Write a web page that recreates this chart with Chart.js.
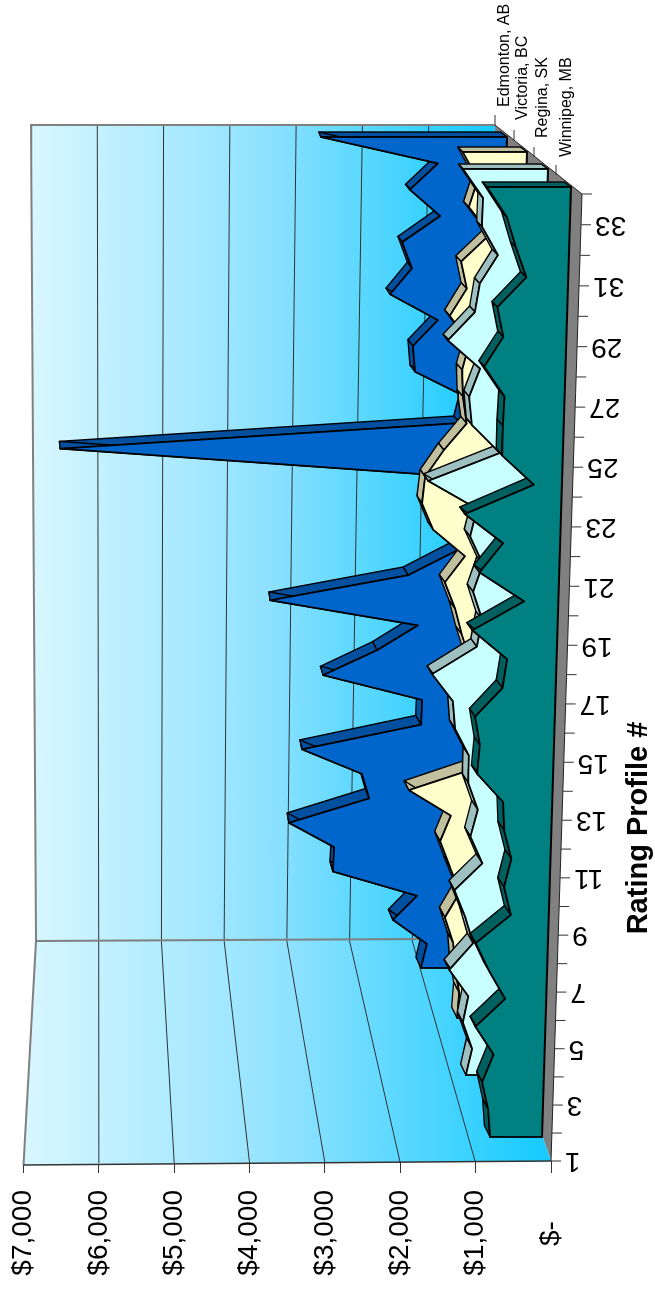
<!DOCTYPE html>
<html>
<head>
<meta charset="utf-8">
<style>
html, body { margin: 0; padding: 0; background: #fff; width: 655px; height: 1289px; overflow: hidden; }
#wrap { position: absolute; left: 0; top: 0; width: 655px; height: 1289px; overflow: hidden; }
#chart { position: absolute; left: 0; top: 0; transform-origin: 0 0; transform: translateY(1289px) rotate(-90deg); }
</style>
<script src="https://cdn.jsdelivr.net/npm/chart.js@4/dist/chart.umd.min.js"></script>
</head>
<body>
<div id="wrap"><canvas id="chart" width="1289" height="655" style="width:1289px;height:655px"></canvas></div>
<script>
// Data
const categories = ['1','2','3','4','5','6','7','8','9','10','11','12','13','14','15','16','17',
    '18','19','20','21','22','23','24','25','26','27','28','29','30','31','32','33','34'];
const tickLabels = ['1','3','5','7','9','11','13','15','17','19','21','23','25','27','29','31','33'];
const valueTicks = [0, 1000, 2000, 3000, 4000, 5000, 6000, 7000];

const winnipeg = [684,720,810,670,920,540,760,950,500,600,515,620,645,1000,975,1050,700,
    650,1120,450,1050,750,1265,370,800,800,790,1070,830,920,550,700,830,1105];
const regina = [764,690,830,765,1040,720,840,1000,625,800,710,855,855,1060,1100,1400,790,
    730,865,740,930,845,1535,550,950,1000,860,1320,955,900,660,895,890,1180];
const victoria = [650,630,700,740,870,660,820,970,825,1445,320,580,590,600,610,740,850,
    1010,730,1200,1375,1340,1080,760,825,850,750,1050,815,910,500,820,700,930];
const edmonton = [955,875,1400,1045,2330,2320,3015,1810,1930,2850,1055,1050,2560,1755,1145,3395,1315,
    570,550,710,1160,6640,590,500,1295,1340,970,1705,1385,1545,980,1450,1035,2820];

// The page is the chart turned a quarter turn, so (sx, sy) on screen is (1289 - sy, sx) on the canvas
const P = (sx, sy) => [1289 - sy, sx];
const FONT = '"Liberation Sans", Arial, sans-serif';

// Where each series sits on the floor: start and end of its base line, on screen
const planes = {
    Winnipeg: { start: P(542, 1137), end: P(571, 187), scale: 76 },
    Regina:   { start: P(521, 1075), end: P(548, 169), scale: 72 },
    Victoria: { start: P(502, 1018), end: P(527, 152), scale: 69 },
    Edmonton: { start: P(484, 968),  end: P(507, 137), scale: 66 }
};

// Category axis that gets a little wider towards the far end
class WarpedCategoryScale extends Chart.CategoryScale {
    getPixelForDecimal(d) {
        return super.getPixelForDecimal(d / (d + 1.05 * (1 - d)));
    }
}
WarpedCategoryScale.id = 'warpedCategory';
WarpedCategoryScale.defaults = Chart.CategoryScale.defaults;

// Area with a thickness, standing on its own plane in the depth of the chart
class Area3DController extends Chart.LineController {
    draw() {
        const ds = this.getDataset();
        const pts = this.getMeta().data;
        const xs = this.chart.scales.x, ys = this.chart.scales.y;
        const plane = planes[ds.plane];
        const ctx = this.chart.ctx;
        const y0 = ys.getPixelForValue(0);
        const k = plane.scale / ((y0 - ys.getPixelForValue(1000)));

        const project = (x, y) => {
            const t = (x - xs.left) / (xs.right - xs.left);
            return [plane.start[0] + t * (plane.end[0] - plane.start[0]),
                plane.start[1] + t * (plane.end[1] - plane.start[1]) + (y - y0) * k];
        };
        const back = (x, y, p) => {
            const t = (x - xs.left) / (xs.right - xs.left);
            const v = (y0 - y) / (y0 - ys.getPixelForValue(1000)) * 1000;
            const d = 11 - 6 * t;
            const slope = (0.6 + 0.7 * t) * Math.max(0.1, 1 - v / 4000);
            return [p[0] + d, p[1] - d * slope];
        };
        const quad = (a, b, c, e) => {
            ctx.beginPath();
            ctx.moveTo(a[0], a[1]);
            ctx.lineTo(b[0], b[1]);
            ctx.lineTo(c[0], c[1]);
            ctx.lineTo(e[0], e[1]);
            ctx.closePath();
            ctx.fill();
            ctx.stroke();
        };

        const front = pts.map(p => project(p.x, p.y));
        const rear = pts.map((p, i) => back(p.x, p.y, front[i]));
        const last = pts.length - 1;

        ctx.save();
        ctx.lineJoin = 'round';
        ctx.strokeStyle = '#000';
        ctx.lineWidth = 1.4;
        ctx.fillStyle = ds.sideColor;

        // far end of the ribbon
        const baseEnd = project(pts[last].x, y0);
        quad(front[last], rear[last], back(pts[last].x, y0, baseEnd), baseEnd);
        // top of the ribbon
        for (let i = last - 1; i >= 0; i--) {
            quad(front[i], rear[i], rear[i + 1], front[i + 1]);
        }
        // front face
        const baseStart = project(pts[0].x, y0);
        ctx.fillStyle = ds.backgroundColor;
        ctx.lineWidth = 1.8;
        ctx.beginPath();
        ctx.moveTo(baseStart[0], baseStart[1]);
        front.forEach(p => ctx.lineTo(p[0], p[1]));
        ctx.lineTo(baseEnd[0], baseEnd[1]);
        ctx.closePath();
        ctx.fill();
        ctx.stroke();
        ctx.restore();
    }
}
Area3DController.id = 'area3d';
Area3DController.defaults = Chart.LineController.defaults;

Chart.register(WarpedCategoryScale, Area3DController);

// Walls and floor behind the series
const wallsPlugin = {
    id: 'walls',
    beforeDatasetsDraw(chart) {
        const ctx = chart.ctx, ys = chart.scales.y;
        const poly = (pts, close) => {
            ctx.beginPath();
            pts.forEach((p, i) => i ? ctx.lineTo(p[0], p[1]) : ctx.moveTo(p[0], p[1]));
            if (close) ctx.closePath();
        };
        const g = ctx.createLinearGradient(0, 23, 0, 551);
        g.addColorStop(0, '#d8f7ff');
        g.addColorStop(0.5, '#90e2ff');
        g.addColorStop(1, '#14caff');

        ctx.save();
        // floor
        ctx.fillStyle = '#808080';
        poly([P(551, 1161), P(475, 941), P(495, 125), P(582, 194)], true);
        ctx.fill();

        // side wall
        ctx.fillStyle = g;
        poly([P(23.5, 1165), P(36, 941), P(475, 941), P(551, 1161)], true);
        ctx.fill();
        // back wall
        const g2 = ctx.createLinearGradient(0, 31, 0, 495);
        g2.addColorStop(0, '#d8f7ff');
        g2.addColorStop(0.5, '#90e2ff');
        g2.addColorStop(1, '#14caff');
        ctx.fillStyle = g2;
        poly([P(36, 941), P(31, 125), P(495, 125), P(475, 941)], true);
        ctx.fill();

        // grid lines follow the value axis
        ctx.lineWidth = 1;
        ctx.strokeStyle = '#333';
        valueTicks.slice(1, -1).forEach(v => {
            const r = v / 7000;
            const front = ys.getPixelForValue(v);
            poly([P(front, 1163), P(475 + (36 - 475) * r, 941), P(495 + (31 - 495) * r, 125)]);
            ctx.stroke();
        });

        // wall frame
        ctx.strokeStyle = '#808080';
        ctx.lineWidth = 2;
        poly([P(23.5, 1165), P(36, 941), P(31, 125), P(495, 125)]);
        ctx.stroke();
        poly([P(36, 941), P(420, 939)]);
        ctx.stroke();

        // front edge of the side wall
        ctx.strokeStyle = '#333';
        ctx.lineWidth = 1.5;
        poly([P(23.5, 1165), P(551, 1161)]);
        ctx.stroke();
        ctx.strokeStyle = '#222';
        ctx.lineWidth = 1;
        poly([P(495, 125), P(582, 194), P(551, 1161)]);
        ctx.stroke();
        ctx.restore();
    },
    afterDatasetsDraw(chart) {
        const ctx = chart.ctx, xs = chart.scales.x;
        const edge = i => {
            const px = xs.getPixelForValue(i);
            return [px, 551 + 31 * (px - xs.left) / (xs.right - xs.left)];
        };
        ctx.save();
        ctx.strokeStyle = '#333';
        ctx.lineWidth = 1;
        categories.forEach((c, i) => {
            const e = edge(i);
            ctx.beginPath();
            ctx.moveTo(e[0], e[1]);
            ctx.lineTo(e[0], e[1] + 10);
            ctx.stroke();
        });

        // category labels, turned a further quarter
        ctx.fillStyle = '#000';
        ctx.font = '28px ' + FONT;
        ctx.textAlign = 'right';
        ctx.textBaseline = 'middle';
        tickLabels.forEach(l => {
            const e = edge(categories.indexOf(l));
            ctx.save();
            ctx.translate(e[0], e[1] + 14);
            ctx.rotate(-Math.PI / 2);
            ctx.fillText(l, 0, 0);
            ctx.restore();
        });

        // series names on the depth axis
        ctx.font = '16px ' + FONT;
        ctx.textAlign = 'left';
        [['Edmonton, AB', 495, 125, 505, 107], ['Victoria, BC', 514, 140, 523, 120],
            ['Regina, SK', 534, 157, 543, 138], ['Winnipeg, MB', 556, 175, 567, 157]].forEach(s => {
            const a = P(s[1], s[2]);
            ctx.beginPath();
            ctx.moveTo(a[0], a[1]);
            ctx.lineTo(a[0] + 10, a[1]);
            ctx.stroke();
            const t = P(s[3], s[4]);
            ctx.fillText(s[0], t[0], t[1]);
        });

        // axis title
        ctx.font = 'bold 29px ' + FONT;
        ctx.textAlign = 'center';
        const title = P(639, 828);
        ctx.fillText('Rating Profile #', title[0], title[1]);
        ctx.restore();
    }
};

new Chart(document.getElementById('chart').getContext('2d'), {
    data: {
        labels: categories,
        datasets: [
            { type: 'area3d', label: 'Winnipeg, MB', plane: 'Winnipeg', data: winnipeg, backgroundColor: '#008080', sideColor: '#006060', clip: false, pointRadius: 0 },
            { type: 'area3d', label: 'Regina, SK', plane: 'Regina', data: regina, backgroundColor: '#c8ffff', sideColor: '#9fc0c0', clip: false, pointRadius: 0 },
            { type: 'area3d', label: 'Victoria, BC', plane: 'Victoria', data: victoria, backgroundColor: '#ffffcc', sideColor: '#c0c09f', clip: false, pointRadius: 0 },
            { type: 'area3d', label: 'Edmonton, AB', plane: 'Edmonton', data: edmonton, backgroundColor: '#0066cc', sideColor: '#00509f', clip: false, pointRadius: 0 }
        ]
    },
    type: 'line',
    plugins: [wallsPlugin],
    options: {
        responsive: false,
        animation: false,
        devicePixelRatio: 1,
        layout: { padding: { left: 0, right: 194, top: 23.5, bottom: 0 } },
        plugins: { legend: { display: false }, tooltip: { enabled: false } },
        scales: {
            x: {
                type: 'warpedCategory',
                offset: false,
                grid: { display: false },
                border: { display: false },
                ticks: { display: false, autoSkip: false },
                afterFit(s) { s.height = 104; }
            },
            y: {
                type: 'linear',
                min: 0,
                max: 7000,
                afterBuildTicks(s) { s.ticks = valueTicks.map(v => ({ value: v })); },
                grid: { drawOnChartArea: false, drawTicks: true, tickLength: 12, color: '#333' },
                border: { display: false },
                ticks: {
                    padding: 17,
                    color: '#000',
                    font: { family: FONT, size: 28 },
                    callback: v => v === 0 ? '$-    ' : '$' + v.toLocaleString('en-US')
                },
                afterFit(s) {
                    s.width = 128;
                    s.paddingTop = 0;
                    s.paddingBottom = 0;
                }
            }
        }
    }
});
</script>
</body>
</html>
